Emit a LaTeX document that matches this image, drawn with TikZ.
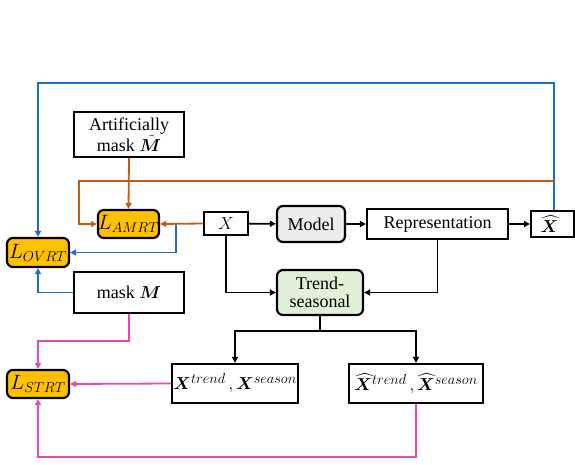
\documentclass[tikz,border=0pt]{standalone}
\usepackage{fontspec}
\setmainfont{Liberation Serif}
\usepackage{amsmath}
\usepackage{bm}
\DeclareMathSizes{18}{18}{13.5}{10}
\DeclareMathSizes{20}{20}{14.5}{11}
\usetikzlibrary{arrows.meta}
\definecolor{lnblue}{RGB}{31,108,193}
\definecolor{lnorange}{RGB}{197,90,17}
\definecolor{lnpink}{RGB}{232,72,176}
\definecolor{lossfill}{RGB}{255,192,0}
\definecolor{modelfill}{RGB}{236,236,236}
\definecolor{trendfill}{RGB}{226,239,217}
\tikzset{
  box/.style={draw=black, line width=2.2pt, fill=white, inner sep=0pt, align=center,
    font=\fontsize{18}{21}\selectfont},
  rbox/.style={box, rounded corners=6pt},
  loss/.style={rbox, fill=lossfill, font=\fontsize{20}{22}\selectfont},
  tip/.style={-{Triangle[length=6pt,width=6pt]}},
  conn/.style={line width=1.8pt, tip},
  bconn/.style={conn, draw=black},
  blconn/.style={conn, draw=lnblue},
  orconn/.style={conn, draw=lnorange},
  pkconn/.style={conn, draw=lnpink},
}
\begin{document}
\begin{tikzpicture}[x=1pt,y=-1pt]
\useasboundingbox (0,0) rectangle (575,464);

% blocks
\node[box, minimum width=110pt, minimum height=45pt] (art) at (129,134.5)
  {Artificially\\[0pt]mask $\bm{\tilde{M}}$};
\node[loss, minimum width=61pt, minimum height=28pt] (lamrt) at (128.5,224) {$L_{AMRT}$};
\node[box, minimum width=44pt, minimum height=23pt] (x) at (226,223.5) {$X$};
\node[rbox, fill=modelfill, minimum width=68pt, minimum height=36pt] (model) at (311,224) {Model};
\node[box, minimum width=141pt, minimum height=30pt] (rep) at (437.5,224) {Representation};
\node[box, minimum width=43pt, minimum height=26pt] (xhat) at (552.5,224) {$\bm{\widehat{X}}$\hspace*{6pt}};
\node[loss, minimum width=62pt, minimum height=29pt] (lovrt) at (38,252.5) {$L_{OVRT}$};
\node[rbox, fill=trendfill, minimum width=86pt, minimum height=45pt] (trend) at (320,292.5)
  {Trend-\\[-3pt]seasonal};
\node[box, minimum width=110pt, minimum height=41pt] (maskm) at (129,292.5) {mask $\bm{M}$};
\node[box, minimum width=126pt, minimum height=39pt] (xtr) at (235,383.5)
  {$\bm{X}^{trend}\,{,}\,\bm{X}^{season}$};
\node[box, minimum width=134pt, minimum height=39pt] (xhtr) at (416,383.5)
  {$\bm{\widehat{X}}^{trend}\,{,}\,\bm{\widehat{X}}^{season}$};
\node[loss, minimum width=62pt, minimum height=28pt] (lstrt) at (38,384) {$L_{STRT}$};

% routing points
\coordinate (btop) at (38,83);
\coordinate (obr) at (554,181);
\coordinate (obl) at (79,181);
\coordinate (bsplit) at (176,224);
\coordinate (pkm) at (38,341);
\coordinate (pkb) at (38,457);
\coordinate (tj) at (320,331);

% main pipeline
\draw[bconn] (x) -- (model);
\draw[bconn] (model) -- (rep);
\draw[bconn] (rep) -- (xhat);
\draw[bconn] (x.south) |- (trend.west);
\draw[bconn] (rep.south) |- (trend.east);
\draw[line width=1.8pt] (trend.south) -- (tj);
\draw[bconn] (tj) -| (xtr.north);
\draw[bconn] (tj) -| (xhtr.north);

% overall reconstruction loss
\draw[blconn] (xhat.north -| obr) |- (btop) -- (lovrt.north);
\draw[blconn] (bsplit) |- (lovrt.east);
\draw[blconn] (maskm.west) -| (lovrt.south);

% artificially masked reconstruction loss
\draw[orconn] (obr) -- (obl) |- (lamrt.west);
\draw[orconn] (art.south) -- (lamrt.north);
\draw[orconn] (x.west) -- (lamrt.east);

% seasonal-trend reconstruction loss
\draw[pkconn] (maskm.south) |- (pkm) -- (lstrt.north);
\draw[pkconn] (xtr.west) -- (lstrt.east);
\draw[pkconn] (xhtr.south) |- (pkb) -- (lstrt.south);
\end{tikzpicture}
\end{document}
